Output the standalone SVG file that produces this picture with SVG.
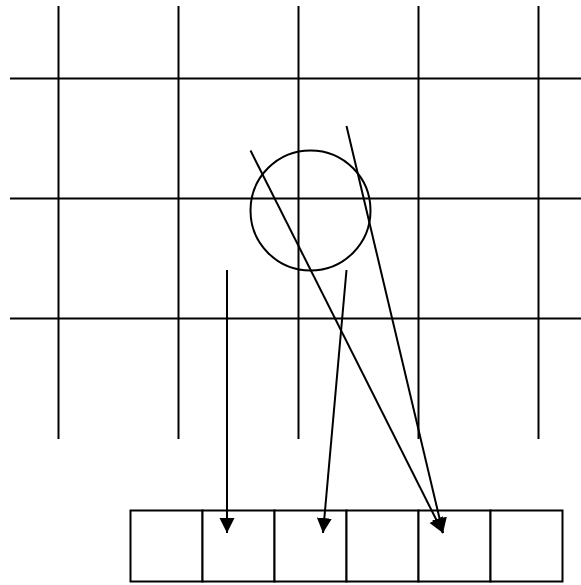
<svg xmlns="http://www.w3.org/2000/svg" width="581" height="585" viewBox="0 0 581 585">
<style>
.l{stroke:#000;stroke-width:2;fill:none}
.b{stroke:#000;stroke-width:2;fill:#fff}
.a{stroke:#000;stroke-width:2;fill:none;marker-end:url(#ah)}
</style>
<defs>
<marker id="ah" markerUnits="userSpaceOnUse" markerWidth="16" markerHeight="16" viewBox="0 0 16 16" refX="15" refY="8" orient="auto">
<path d="M0,0.5 L15,8 L0,15.5 Z" fill="#000"/>
</marker>
</defs>
<rect width="581" height="585" fill="#fff"/>
<g id="grid">
<line class="l" x1="58.5" y1="6" x2="58.5" y2="439"/>
<line class="l" x1="178.5" y1="6" x2="178.5" y2="439"/>
<line class="l" x1="298.5" y1="6" x2="298.5" y2="439"/>
<line class="l" x1="418.5" y1="6" x2="418.5" y2="439"/>
<line class="l" x1="538.5" y1="6" x2="538.5" y2="439"/>
<line class="l" x1="10" y1="78.5" x2="581" y2="78.5"/>
<line class="l" x1="10" y1="198.5" x2="581" y2="198.5"/>
<line class="l" x1="10" y1="318.5" x2="581" y2="318.5"/>
</g>
<g id="circle">
<circle class="l" cx="310.5" cy="210.5" r="60"/>
</g>
<g id="cells">
<rect class="b" x="130.5" y="510.5" width="72" height="71"/>
<rect class="b" x="202.5" y="510.5" width="72" height="71"/>
<rect class="b" x="274.5" y="510.5" width="72" height="71"/>
<rect class="b" x="346.5" y="510.5" width="72" height="71"/>
<rect class="b" x="418.5" y="510.5" width="72" height="71"/>
<rect class="b" x="490.5" y="510.5" width="72" height="71"/>
</g>
<g id="connectors">
<line class="a" x1="250.5" y1="150.5" x2="443" y2="533"/>
<line class="a" x1="346.5" y1="126" x2="443" y2="533"/>
<line class="a" x1="227" y1="270" x2="227" y2="533"/>
<line class="a" x1="346.5" y1="270" x2="323" y2="533"/>
</g>
</svg>
